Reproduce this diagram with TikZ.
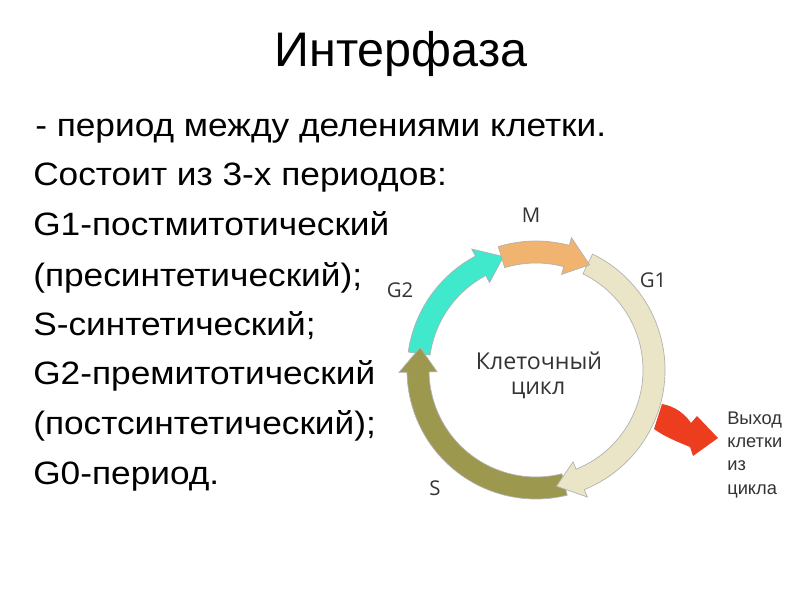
\documentclass[tikz,border=0pt]{standalone}
\usepackage{fontspec}
\setmainfont{Liberation Sans}
\newfontfamily\bodyfont[FakeStretch=1.09]{Liberation Sans}
\newfontfamily\cyclefont{Open Sans}

\definecolor{phaseGtwo}{RGB}{64,232,204}
\definecolor{phaseM}{RGB}{240,180,112}
\definecolor{phaseGone}{RGB}{233,229,198}
\definecolor{phaseS}{RGB}{156,152,78}
\definecolor{exitred}{RGB}{236,62,30}

\tikzset{
  bodyline/.style={anchor=base west, inner sep=0pt, font=\bodyfont\fontsize{23}{27}\selectfont},
  phaselabel/.style={inner sep=0pt, text=black!80, font=\cyclefont\fontsize{14.5}{17}\selectfont},
  centerlabel/.style={inner sep=0pt, text=black!80, font=\cyclefont\fontsize{16.5}{20}\selectfont},
  exitlabel/.style={anchor=north west, inner sep=0pt, align=left, text=black!80,
    font=\fontsize{13}{16.4}\selectfont},
  ringedge/.style={draw=black!30, line width=0.5pt}
}

% стрелка по кругу: #1 начало, #2 острие, #3 цвет
\newcommand{\cyclearrow}[3]{%
  \fill[#3, ringedge]
    ({#1}:{\R+\w}) arc[start angle=#1, end angle=#2+\dh, radius=\R+\w]
    -- ({#2+\dh}:{\R+\h}) -- ({#2}:\R) -- ({#2+\dh}:{\R-\h})
    -- ({#2+\dh}:{\R-\w}) arc[start angle=#2+\dh, end angle=#1, radius=\R-\w]
    -- cycle;}

\begin{document}
\begin{tikzpicture}[x=0.025cm,y=0.025cm] % 1 px = 0.025 cm

% --------- ПАРАМЕТРЫ ----------
\def\R{118}   % радиус кольца
\def\w{11}    % полуширина полосы
\def\h{19}    % полуширина острия
\def\dh{12}   % длина острия (градусы)
% ------------------------------

\useasboundingbox (0,0) rectangle (800,600);

% Заголовок
\node[anchor=base, inner sep=0pt, font=\fontsize{34.5}{40}\selectfont] (title) at (401,533) {Интерфаза};

% Текст слева
\node[bodyline] (line1) at (35,463) {- период между делениями клетки.};
\node[bodyline] (line2) at (33,414) {Состоит из 3-х периодов:};
\node[bodyline] (line3) at (33,364) {G1-постмитотический};
\node[bodyline] (line4) at (33,314) {(пресинтетический);};
\node[bodyline] (line5) at (33,265) {S-синтетический;};
\node[bodyline] (line6) at (33,216) {G2-премитотический};
\node[bodyline] (line7) at (33,166) {(постсинтетический);};
\node[bodyline] (line8) at (33,116) {G0-период.};

% Выход из цикла
\fill[exitred] (662,196) .. controls (675,194) and (686,185) .. (691,177)
  -- (697,184) -- (718,162) -- (693,144) -- (690,153)
  .. controls (678,158) and (665,163) .. (654,171) -- cycle;
\node[exitlabel] (exit) at (727,188) {Выход\\клетки\\из\\цикла};

% Кольцо клеточного цикла
\begin{scope}[shift={(536,230)}]
  \cyclearrow{172}{106}{phaseGtwo}
  \cyclearrow{-76}{-191}{phaseS}
  \cyclearrow{64}{-80}{phaseGone}
  \cyclearrow{107}{63}{phaseM}
\end{scope}

% Подписи фаз
\node[phaselabel] (labM) at (531,385) {M};
\node[phaselabel] (labGone) at (653,320) {G1};
\node[phaselabel] (labGtwo) at (400,310) {G2};
\node[phaselabel] (labS) at (435,112) {S};
\node[centerlabel] (cycleA) at (539,239) {Клеточный};
\node[centerlabel] (cycleB) at (538,210) {цикл};

\end{tikzpicture}
\end{document}
